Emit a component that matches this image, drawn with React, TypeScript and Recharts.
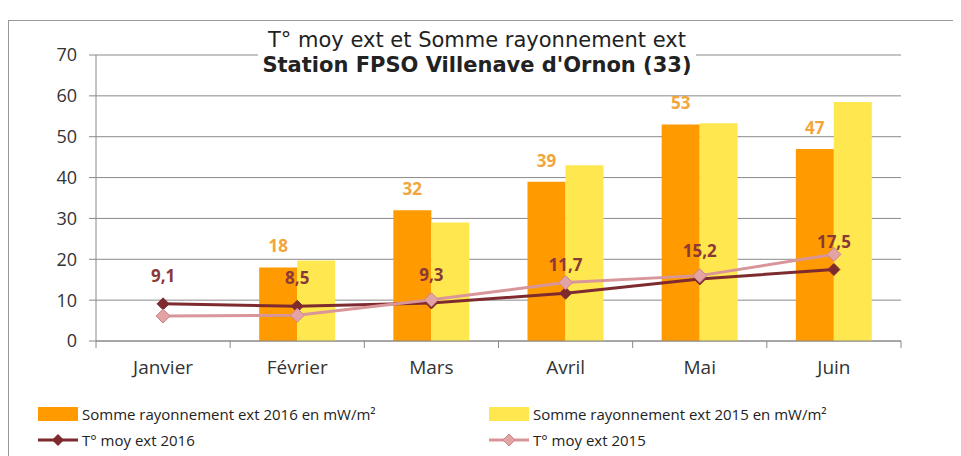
import { ComposedChart, Bar, Line, XAxis, YAxis, CartesianGrid, LabelList } from 'recharts'

const months = ['Janvier', 'Février', 'Mars', 'Avril', 'Mai', 'Juin']
const rayonnement2016 = [null, 18, 32, 39, 53, 47]
const rayonnement2015 = [null, 19.7, 29, 43, 53.3, 58.5]
const temp2016 = [9.1, 8.5, 9.3, 11.7, 15.2, 17.5]
const temp2015 = [6.1, 6.3, 10.1, 14.3, 16, 21.2]
const yTicks = [0, 10, 20, 30, 40, 50, 60, 70]

const FONT = '"Open Sans", Lato, sans-serif'
const ORANGE = '#FF9A00'
const YELLOW = '#FFE84F'
const DARK = '#7E2B30'
const PINK = '#D9969A'

const data = months.map((m, i) => ({
    month: m,
    r2016: rayonnement2016[i],
    r2015: rayonnement2015[i],
    t2016: temp2016[i],
    t2015: temp2015[i],
}))

const Diamond = ({ cx, cy, r, fill, stroke }: any) => {
    if (cx == null || cy == null) return null
    return (
        <path
            d={`M${cx},${cy - r} L${cx + r},${cy} L${cx},${cy + r} L${cx - r},${cy} Z`}
            fill={fill}
            stroke={stroke}
            strokeWidth={1}
        />
    )
}

const MonthTick = (props: any) => {
    const { x, y, payload, index } = props
    const half = 805 / 6 / 2
    return (
        <g>
            <line x1={x + half} y1={y - 8} x2={x + half} y2={y - 1} stroke="#888" />
            {index === 0 && <line x1={x - half} y1={y - 8} x2={x - half} y2={y - 1} stroke="#888" />}
            <text x={x} y={y + 25} textAnchor="middle" fontSize={19} fill="#333" fontFamily={FONT}>
                {payload.value}
            </text>
        </g>
    )
}

const fmt = (v: any) => (v == null ? '' : String(v).replace('.', ','))

export default function App() {
    return (
        <div style={{ position: 'relative', width: 953, height: 448, overflow: 'hidden', fontFamily: FONT, background: '#fff' }}>
            <div style={{ position: 'absolute', left: 0, top: 12, width: 1000, height: 600, border: '1px solid #999' }} />
            <ComposedChart
                width={953}
                height={448}
                data={data}
                margin={{ top: 47, right: 60, left: 48, bottom: 85 }}
                barGap={0}
                style={{ position: 'absolute', left: 0, top: 0 }}
            >
                <CartesianGrid vertical={false} stroke="#8a8a8a" />
                <XAxis
                    dataKey="month"
                    axisLine={{ stroke: '#888' }}
                    tickLine={false}
                    tick={<MonthTick />}
                    height={30}
                    interval={0}
                />
                <YAxis
                    domain={[0, 70]}
                    ticks={yTicks}
                    width={40}
                    axisLine={{ stroke: '#888' }}
                    tickLine={{ stroke: '#888' }}
                    tickSize={7}
                    tickMargin={12}
                    tick={{ fontSize: 18, fill: '#333', fontFamily: FONT }}
                />
                <Bar dataKey="r2016" fill={ORANGE} barSize={38} isAnimationActive={false}>
                    <LabelList
                        dataKey="r2016"
                        position="top"
                        offset={15}
                        fill="#F2A53A"
                        fontSize={17}
                        fontWeight="bold"
                        fontFamily={FONT}
                    />
                </Bar>
                <Bar dataKey="r2015" fill={YELLOW} barSize={38} isAnimationActive={false} />
                <Line
                    dataKey="t2016"
                    stroke={DARK}
                    strokeWidth={3}
                    dot={(p: any) => <Diamond key={p.index} cx={p.cx} cy={p.cy} r={6} fill={DARK} stroke={DARK} />}
                    isAnimationActive={false}
                >
                    <LabelList
                        dataKey="t2016"
                        position="top"
                        offset={22}
                        fill="#8A3A36"
                        fontSize={17}
                        fontWeight="bold"
                        fontFamily={FONT}
                        formatter={fmt}
                    />
                </Line>
                <Line
                    dataKey="t2015"
                    stroke={PINK}
                    strokeWidth={3}
                    dot={(p: any) => <Diamond key={p.index} cx={p.cx} cy={p.cy} r={7} fill="#E3A3A5" stroke="#C98589" />}
                    isAnimationActive={false}
                />
            </ComposedChart>
            <div
                style={{
                    position: 'absolute', left: 250, top: 19, width: 438, background: '#fff',
                    textAlign: 'center', color: '#222', fontSize: 21, lineHeight: '25px', padding: '1px 0',
                    fontFamily: '"DejaVu Sans", Verdana, sans-serif', whiteSpace: 'nowrap',
                }}
            >
                <div>T° moy ext et Somme rayonnement ext</div>
                <div style={{ fontWeight: 'bold' }}>Station FPSO Villenave d'Ornon (33)</div>
            </div>
            <div style={{ position: 'absolute', left: 30, top: 393, fontSize: 15, color: '#222' }}>
                <div style={{ display: 'flex', alignItems: 'center', height: 26 }}>
                    <div style={{ width: 40, height: 14, background: ORANGE, marginRight: 4 }} />
                    <span style={{ width: 407 }}>Somme rayonnement ext 2016 en mW/m²</span>
                    <div style={{ width: 40, height: 14, background: YELLOW, marginRight: 4 }} />
                    <span>Somme rayonnement ext 2015 en mW/m²</span>
                </div>
                <div style={{ display: 'flex', alignItems: 'center', height: 26 }}>
                    <svg width={40} height={14} style={{ marginRight: 4 }}>
                        <line x1={0} y1={7} x2={40} y2={7} stroke={DARK} strokeWidth={3} />
                        <path d="M20,1 L26,7 L20,13 L14,7 Z" fill={DARK} />
                    </svg>
                    <span style={{ width: 407 }}>T° moy ext 2016</span>
                    <svg width={40} height={14} style={{ marginRight: 4 }}>
                        <line x1={0} y1={7} x2={40} y2={7} stroke={PINK} strokeWidth={3} />
                        <path d="M20,1 L26,7 L20,13 L14,7 Z" fill="#E3A3A5" stroke="#C98589" />
                    </svg>
                    <span>T° moy ext 2015</span>
                </div>
            </div>
        </div>
    )
}
